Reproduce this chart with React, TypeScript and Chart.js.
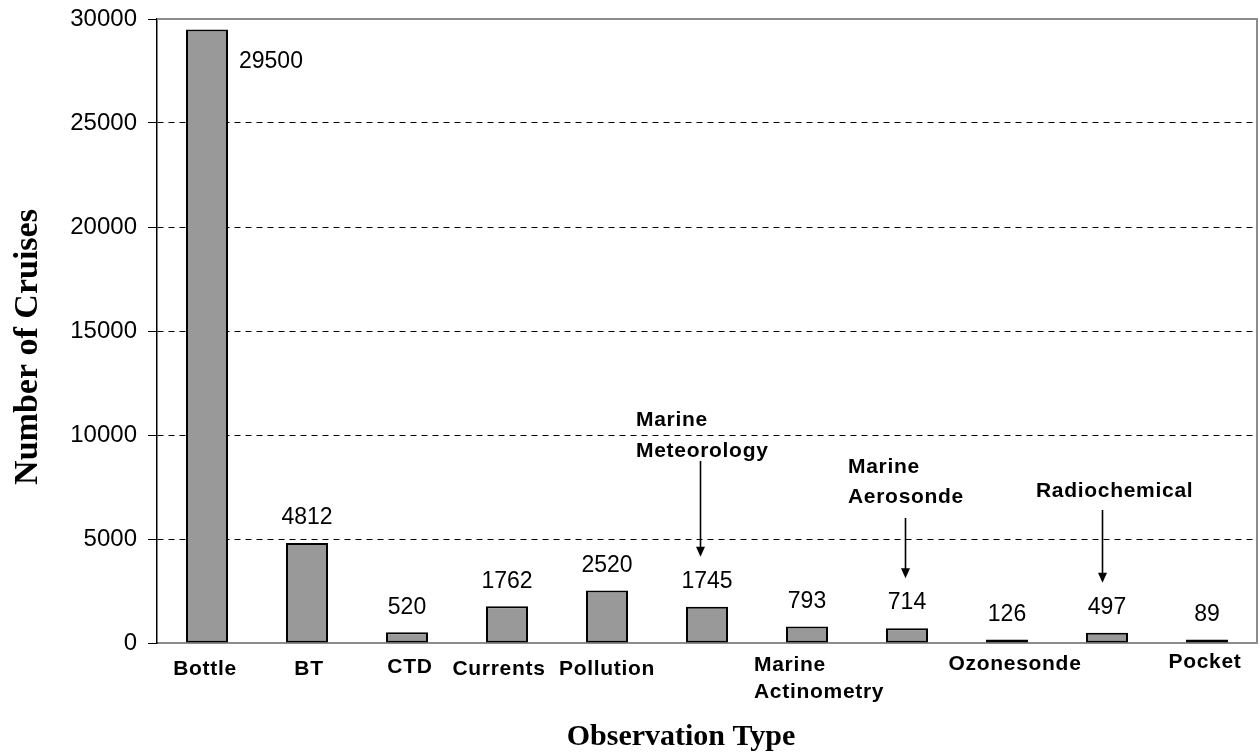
import { useEffect, useRef } from 'react';
import { Chart, registerables } from 'chart.js';

Chart.register(...registerables);

// ---- data ----
const categories = [
  'Bottle', 'BT', 'CTD', 'Currents', 'Pollution', 'Marine Meteorology',
  'Marine Actinometry', 'Marine Aerosonde', 'Ozonesonde', 'Radiochemical', 'Pocket',
];
const cruises = [29500, 4812, 520, 1762, 2520, 1745, 793, 714, 126, 497, 89];
const yTickValues = [0, 5000, 10000, 15000, 20000, 25000, 30000];
const yAxisTitle = 'Number of Cruises';
const xAxisTitle = 'Observation Type';

// category text shown under the axis (empty where the name is shown above with an arrow)
const belowLabels: string[][] = [
  ['Bottle'], ['BT'], ['CTD'], ['Currents'], ['Pollution'], [],
  ['Marine', 'Actinometry'], [], ['Ozonesonde'], [], ['Pocket'],
];
// category text shown above the bar with an arrow
const arrowLabels: { index: number; lines: string[] }[] = [
  { index: 5, lines: ['Marine', 'Meteorology'] },
  { index: 7, lines: ['Marine', 'Aerosonde'] },
  { index: 9, lines: ['Radiochemical'] },
];

// ---- layout (styling only) ----
const belowLayout = [
  { dx: -2, base: 675, align: 'center' },
  { dx: 2, base: 675, align: 'center' },
  { dx: 3, base: 673, align: 'center' },
  { dx: -8, base: 675, align: 'center' },
  { dx: 0, base: 675, align: 'center' },
  { dx: 0, base: 675, align: 'center' },
  { dx: -53, base: 671, align: 'left' },
  { dx: 0, base: 675, align: 'center' },
  { dx: 8, base: 670, align: 'center' },
  { dx: 0, base: 675, align: 'center' },
  { dx: -2, base: 668, align: 'center' },
];
const arrowLayout = [
  { textX: 636, bases: [426, 457], arrowDx: -7, arrowTop: 461 },
  { textX: 848, bases: [473, 503], arrowDx: -2, arrowTop: 518 },
  { textX: 1036, bases: [497], arrowDx: -5, arrowTop: 510 },
];

const SANS = '"Liberation Sans", Arial, sans-serif';
const SERIF = '"Liberation Serif", "Times New Roman", serif';

const annotationPlugin = {
  id: 'annotations',
  beforeDraw(chart: any) {
    const { ctx, width, height } = chart;
    ctx.save();
    ctx.fillStyle = '#ffffff';
    ctx.fillRect(0, 0, width, height);
    ctx.restore();
  },
  afterDraw(chart: any) {
    const { ctx, chartArea } = chart;
    const meta = chart.getDatasetMeta(0);
    ctx.save();

    // frame top / right
    ctx.strokeStyle = '#8c8c8c';
    ctx.lineWidth = 2;
    ctx.beginPath();
    ctx.moveTo(chartArea.left, chartArea.top);
    ctx.lineTo(chartArea.right, chartArea.top);
    ctx.lineTo(chartArea.right, chartArea.bottom);
    ctx.stroke();

    // value labels
    ctx.fillStyle = '#000';
    ctx.font = `23px ${SANS}`;
    ctx.textBaseline = 'middle';
    meta.data.forEach((el: any, i: number) => {
      const txt = String(cruises[i]);
      if (i === 0) {
        ctx.textAlign = 'left';
        ctx.fillText(txt, el.x + el.width / 2 + 11, el.y + 32);
      } else {
        ctx.textAlign = 'center';
        ctx.fillText(txt, el.x, el.y - 25);
      }
    });

    // category labels below axis
    ctx.font = `bold 21px ${SANS}`;
    (ctx as any).letterSpacing = '0.7px';
    ctx.textBaseline = 'alphabetic';
    belowLabels.forEach((lines, i) => {
      const el = meta.data[i];
      const lay = belowLayout[i];
      ctx.textAlign = lay.align;
      lines.forEach((line, k) => {
        ctx.fillText(line, el.x + lay.dx, lay.base + k * 27);
      });
    });

    // labels above with arrows
    arrowLabels.forEach((a, j) => {
      const lay = arrowLayout[j];
      const el = meta.data[a.index];
      ctx.textAlign = 'left';
      ctx.font = `bold 21px ${SANS}`;
      a.lines.forEach((line, k) => ctx.fillText(line, lay.textX, lay.bases[k]));
      const ax = Math.round(el.x + lay.arrowDx) + 0.5;
      const tip = el.y - 50;
      ctx.strokeStyle = '#000';
      ctx.lineWidth = 1.6;
      ctx.beginPath();
      ctx.moveTo(ax, lay.arrowTop);
      ctx.lineTo(ax, tip - 8);
      ctx.stroke();
      ctx.beginPath();
      ctx.moveTo(ax - 4.5, tip - 10);
      ctx.lineTo(ax + 4.5, tip - 10);
      ctx.lineTo(ax, tip);
      ctx.closePath();
      ctx.fill();
    });
    (ctx as any).letterSpacing = '0px';

    // axis titles
    ctx.fillStyle = '#000';
    ctx.font = `bold 30px ${SERIF}`;
    ctx.textAlign = 'center';
    ctx.textBaseline = 'alphabetic';
    ctx.fillText(xAxisTitle, 681, 745);

    ctx.save();
    ctx.translate(28, 347);
    ctx.rotate(-Math.PI / 2);
    ctx.font = `bold 34px ${SERIF}`;
    ctx.textBaseline = 'middle';
    ctx.fillText(yAxisTitle, 0, 0);
    ctx.restore();

    ctx.restore();
  },
};

export default function App() {
  const ref = useRef<HTMLCanvasElement | null>(null);

  useEffect(() => {
    if (!ref.current) return;
    const chart = new Chart(ref.current, {
      type: 'bar',
      data: {
        labels: categories,
        datasets: [
          {
            data: cruises,
            backgroundColor: '#999999',
            borderColor: '#000000',
            borderWidth: 2,
            borderSkipped: false,
            minBarLength: 3.5,
            barPercentage: 0.42,
            categoryPercentage: 1,
          },
        ],
      },
      options: {
        animation: false,
        responsive: true,
        maintainAspectRatio: false,
        layout: { padding: { top: 19, right: 3, left: 0, bottom: 0 } },
        plugins: {
          legend: { display: false },
          tooltip: { enabled: false },
          title: { display: false },
        },
        scales: {
          x: {
            type: 'category',
            offset: true,
            grid: { display: false, drawTicks: false },
            ticks: { display: false },
            border: { display: true, color: '#8c8c8c', width: 2 },
            afterFit: (scale: any) => {
              scale.height = 112;
              scale.paddingLeft = 0;
              scale.paddingRight = 0;
            },
          },
          y: {
            min: 0,
            max: 30000,
            afterBuildTicks: (scale: any) => {
              scale.ticks = yTickValues.map((v) => ({ value: v }));
            },
            ticks: {
              callback: (v: any) => String(v),
              color: '#000',
              font: { family: SANS, size: 24 },
              padding: 11,
            },
            grid: {
              color: (c: any) =>
                c.tick && (c.tick.value === 0 || c.tick.value === 30000) ? 'rgba(0,0,0,0)' : '#000',
              tickColor: '#000',
              tickLength: 9,
              lineWidth: 1,
            },
            border: { display: true, color: '#000', width: 1.5, dash: [6, 5] },
            afterFit: (scale: any) => {
              scale.width = 157;
              scale.paddingTop = 0;
              scale.paddingBottom = 0;
            },
          },
        },
      },
      plugins: [annotationPlugin],
    });
    return () => chart.destroy();
  }, []);

  return (
    <div style={{ position: 'absolute', left: 0, top: 0, width: 1260, height: 755 }}>
      <canvas ref={ref} />
    </div>
  );
}
